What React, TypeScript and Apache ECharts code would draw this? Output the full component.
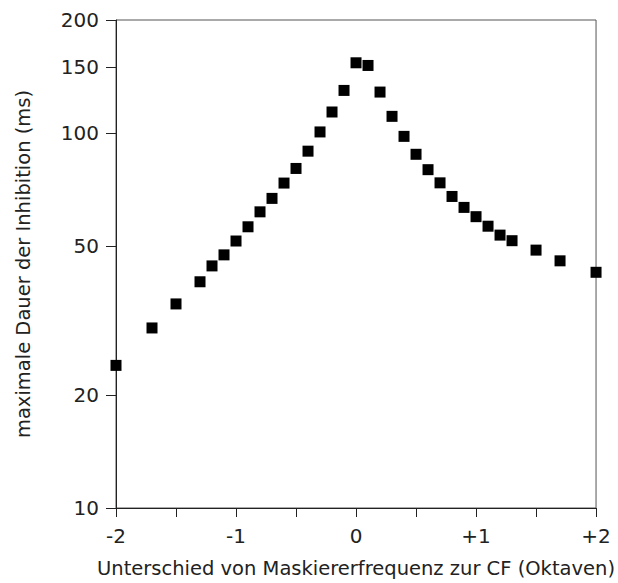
import React, { useEffect, useRef } from "react";
import * as echarts from "echarts";

const xOctaves: number[] = [
  -2, -1.7, -1.5, -1.3, -1.2, -1.1, -1.0, -0.9, -0.8, -0.7, -0.6, -0.5, -0.4,
  -0.3, -0.2, -0.1, 0, 0.1, 0.2, 0.3, 0.4, 0.5, 0.6, 0.7, 0.8, 0.9, 1.0, 1.1,
  1.2, 1.3, 1.5, 1.7, 2.0,
];
const inhibitionMs: number[] = [
  24.0, 30.2, 35.0, 40.1, 44.2, 47.3, 51.5, 56.2, 61.6, 66.9, 73.5, 80.4, 89.4,
  100.6, 113.7, 129.8, 153.8, 151.3, 128.5, 110.7, 97.9, 87.7, 79.8, 73.6, 67.7,
  63.3, 59.8, 56.4, 53.4, 51.6, 48.7, 45.6, 42.5,
];
const yTickValues: number[] = [10, 20, 50, 100, 150, 200];
const xTitle = "Unterschied von Maskiererfrequenz zur CF (Oktaven)";
const yTitle = "maximale Dauer der Inhibition (ms)";

const FONT = "DejaVu Sans";

export default function App() {
  const ref = useRef<HTMLDivElement>(null);
  useEffect(() => {
    if (!ref.current) return;
    const chart = echarts.init(ref.current, undefined, { renderer: "svg" });
    const data = xOctaves.map((x, i) => [x, inhibitionMs[i]]);
    chart.setOption({
      animation: false,
      backgroundColor: "#ffffff",
      grid: {
        left: 116,
        right: 16,
        top: 20,
        bottom: 75,
        show: true,
        borderColor: "#555",
        borderWidth: 1,
        containLabel: false,
      },
      xAxis: {
        type: "value",
        min: -2,
        max: 2,
        interval: 0.5,
        name: xTitle,
        nameLocation: "middle",
        nameGap: 50,
        nameTextStyle: { fontFamily: FONT, fontSize: 19.5, color: "#222" },
        axisLine: { show: true, onZero: false, lineStyle: { color: "#222", width: 1 } },
        axisTick: { show: true, length: 9, lineStyle: { color: "#222" } },
        splitLine: { show: false },
        axisLabel: {
          fontFamily: FONT,
          fontSize: 20,
          color: "#222",
          margin: 18,
          formatter: (v: number) => {
            if (Math.abs(v - Math.round(v)) > 1e-6) return "";
            const r = Math.round(v);
            return r > 0 ? "+" + r : String(r);
          },
        },
      },
      yAxis: {
        type: "log",
        logBase: 10,
        min: 10,
        max: 200,
        name: yTitle,
        nameLocation: "middle",
        nameGap: 83,
        nameRotate: 90,
        nameTextStyle: { fontFamily: FONT, fontSize: 19.5, color: "#222" },
        axisLine: { show: true, onZero: false, lineStyle: { color: "#222", width: 1 } },
        axisTick: { show: true, length: 10, customValues: yTickValues, lineStyle: { color: "#222" } },
        splitLine: { show: false },
        minorTick: { show: false },
        axisLabel: {
          fontFamily: FONT,
          fontSize: 20,
          color: "#222",
          margin: 17,
          customValues: yTickValues,
          formatter: (v: number) => String(Math.round(v)),
        },
      },
      series: [
        {
          type: "scatter",
          data,
          symbol: "rect",
          symbolSize: 11,
          itemStyle: { color: "#000", opacity: 1 },
        },
      ],
    });
    return () => chart.dispose();
  }, []);
  return (
    <div
      ref={ref}
      style={{ position: "absolute", left: 0, top: 0, width: 618, height: 583 }}
    />
  );
}
